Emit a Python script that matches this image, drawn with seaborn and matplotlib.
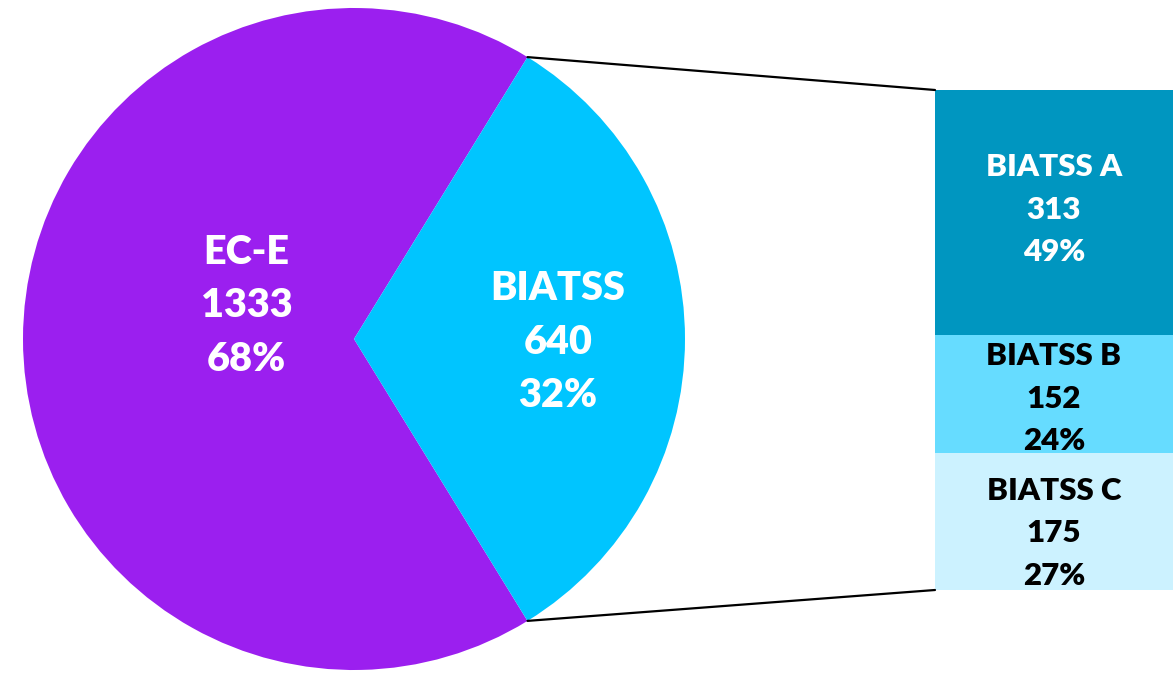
import numpy as np
import matplotlib
matplotlib.use('Agg')
import matplotlib.pyplot as plt
from matplotlib.patches import ConnectionPatch
import seaborn as sns

# Data
pie_labels = ['EC-E', 'BIATSS']
pie_counts = [1333, 640]
pie_colors = ['#9B1FEF', '#00C5FF']

sub_labels = ['BIATSS C', 'BIATSS B', 'BIATSS A']   # bottom -> top
sub_counts = [175, 152, 313]
sub_colors = ['#CCF2FF', '#66DCFF', '#0096C0']
sub_text_colors = ['black', 'black', 'white']

sns.set_theme(style='white')
plt.rcParams['font.family'] = ['Lato', 'DejaVu Sans']

fig = plt.figure(figsize=(11.73, 6.75), dpi=100)

# --- Pie ---
ax_pie = fig.add_axes([23 / 1173, 5 / 675, 662 / 1173, 662 / 675])
total = sum(pie_counts)
half_angle = 360 * pie_counts[1] / total / 2
wedges, _ = ax_pie.pie(pie_counts, colors=pie_colors, startangle=half_angle,
                       counterclock=True, radius=1,
                       wedgeprops=dict(linewidth=0))
ax_pie.set_xlim(-1, 1)
ax_pie.set_ylim(-1, 1)
ax_pie.set_aspect('equal')
ax_pie.axis('off')

pie_text_pos = [(-0.325, 0.1), (0.616, -0.01)]
for (x, y), lab, n in zip(pie_text_pos, pie_labels, pie_counts):
    pct = f'{round(100 * n / total)}%'
    for line, off in zip([lab, str(n), pct], [38.5, 0, -38.5]):
        ax_pie.annotate(line, (x, y), xytext=(0, off), textcoords='offset points',
                        ha='center', va='center', color='white',
                        fontsize=28.5, fontweight='heavy')

# --- Stacked bar ---
ax_bar = fig.add_axes([935 / 1173, 85 / 675, 238 / 1173, 500 / 675])
sub_total = sum(sub_counts)
bottom = 0
text_shift = [-11.5, -5, 2.5]  # px
for lab, n, col, tcol, sh in zip(sub_labels, sub_counts, sub_colors,
                                 sub_text_colors, text_shift):
    ax_bar.bar(0, n, width=1, bottom=bottom, color=col, linewidth=0)
    yc = bottom + n / 2
    pct = f'{round(100 * n / sub_total)}%'
    for line, off in zip([lab, str(n), pct], [30.6, 0, -30.6]):
        ax_bar.annotate(line, (0, yc), xytext=(0, off + sh * 0.72),
                        textcoords='offset points', ha='center', va='center',
                        color=tcol, fontsize=22.5, fontweight='heavy')
    bottom += n
ax_bar.set_xlim(-0.5, 0.5)
ax_bar.set_ylim(0, sub_total)
ax_bar.axis('off')

# --- Connection lines ---
theta = np.deg2rad(half_angle)
for sign, yb in [(1, sub_total), (-1, 0)]:
    con = ConnectionPatch(xyA=(np.cos(theta), sign * np.sin(theta)), coordsA=ax_pie.transData,
                          xyB=(-0.5, yb), coordsB=ax_bar.transData,
                          color='black', linewidth=1.6)
    fig.add_artist(con)

fig.savefig('out.png', dpi=100, facecolor='white')
